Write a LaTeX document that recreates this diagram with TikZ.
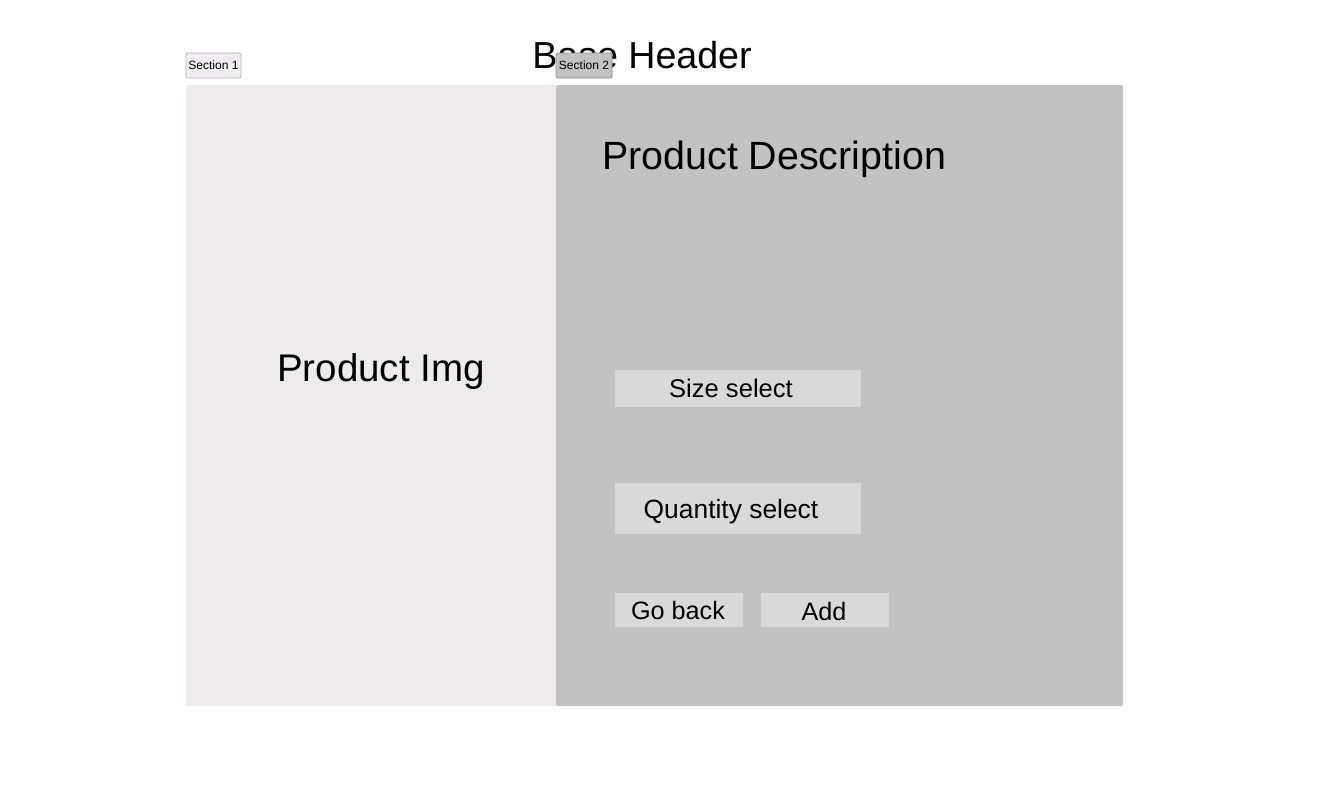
\documentclass[tikz,border=0pt]{standalone}
\usepackage{fontspec}
\setmainfont{Liberation Sans}
\definecolor{leftpane}{HTML}{EDEBEC}
\definecolor{rightpane}{HTML}{C2C2C2}
\definecolor{field}{HTML}{D9D9D9}
\definecolor{tabone}{HTML}{EFEDEF}
\definecolor{tabedge}{HTML}{B4B4B4}
\definecolor{tabedgedark}{HTML}{8E8E8E}
\begin{document}
\begin{tikzpicture}[x=1pt,y=-1pt,
  panel/.style={inner sep=0pt, outer sep=0pt, draw=none},
  fieldbox/.style={panel, fill=field},
  tab/.style={inner sep=0pt, outer sep=0pt, rounded corners=1.5pt, line width=0.8pt,
              font=\fontsize{12}{14}\selectfont},
  bigtext/.style={inner sep=0pt, anchor=base},
  fieldtext/.style={inner sep=0pt, anchor=base}]
\useasboundingbox (0,0) rectangle (1319,793);
\fill[white] (0,0) rectangle (1319,793);

% page header
\node[inner sep=0pt, anchor=base, font=\fontsize{37.6}{44}\selectfont] (header) at (642,68) {Base Header};

% section tabs
\node[tab, fill=tabone, draw=tabedge, minimum width=55pt, minimum height=25pt] (tab1) at (213.5,65.5) {Section 1};
\node[tab, fill=rightpane, draw=tabedgedark, minimum width=56pt, minimum height=25pt] (tab2) at (584,65.5) {Section 2};

% two content panes
\node[panel, fill=leftpane, minimum width=370pt, minimum height=621pt] (left) at (371,395.5) {};
\node[panel, fill=rightpane, rounded corners=1.5pt, minimum width=567pt, minimum height=621pt] (right) at (839.5,395.5) {};

% left pane label
\node[bigtext, font=\fontsize{38.5}{44}\selectfont] (imglabel) at (381,381) {Product Img};

% right pane content
\node[bigtext, anchor=base west, font=\fontsize{39.4}{45}\selectfont] (desc) at (602,169) {Product Description};

\node[fieldbox, minimum width=246pt, minimum height=37pt] (size) at (738,388.5) {};
\node[fieldtext, font=\fontsize{25.6}{30}\selectfont] (sizelabel) at (731,397) {Size select};

\node[fieldbox, minimum width=246pt, minimum height=51pt] (qty) at (738,508.5) {};
\node[fieldtext, font=\fontsize{26.4}{31}\selectfont] (qtylabel) at (731,518) {Quantity select};

\node[fieldbox, minimum width=128pt, minimum height=34pt] (back) at (679,610) {};
\node[fieldtext, font=\fontsize{25.2}{30}\selectfont] (backlabel) at (678,619) {Go back};

\node[fieldbox, minimum width=128pt, minimum height=34pt] (add) at (825,610) {};
\node[fieldtext, font=\fontsize{25.2}{30}\selectfont] (addlabel) at (824,620) {Add};
\end{tikzpicture}
\end{document}
